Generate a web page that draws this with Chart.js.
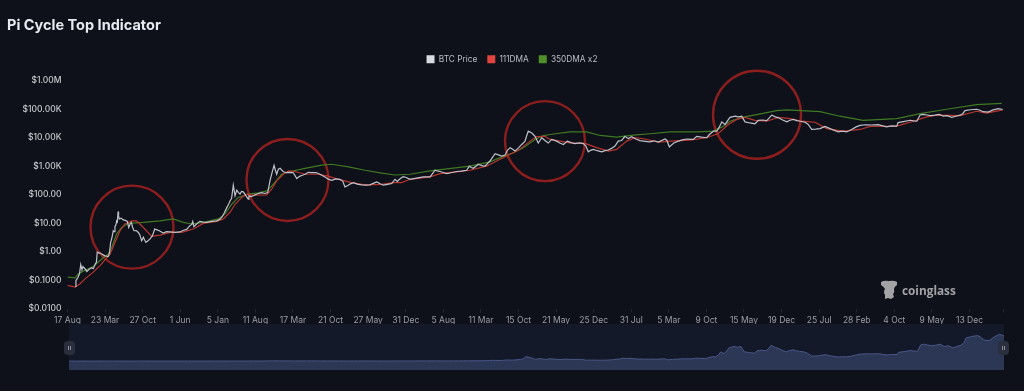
<!DOCTYPE html>
<html>
<head>
<meta charset="utf-8">
<title>Pi Cycle Top Indicator</title>
<script src="https://cdn.jsdelivr.net/npm/chart.js@4"></script>
<style>
  html, body { margin: 0; padding: 0; background: #0e1119; overflow: hidden; }
  #wrap { position: relative; width: 1024px; height: 391px; filter: blur(0.35px); }
  #mainChart { position: absolute; left: 0; top: 0; }
  #heading { position: absolute; left: 7px; top: 16px; font: 700 14.5px Inter, sans-serif; color: #e6ebf0; line-height: 18px; }
  #navBox { position: absolute; left: 69px; top: 324px; width: 935px; height: 46px; background: #131929; }
  .handle { position: absolute; top: 341px; width: 11px; height: 14px; border-radius: 4px; background: #2a2e3d; }
  .handle::after { content: ''; position: absolute; left: 4px; top: 5px; width: 1px; height: 4px; background: #8a8e9a; box-shadow: 2px 0 0 #8a8e9a; }
  #logo { position: absolute; left: 880px; top: 280px; height: 20px; display: flex; align-items: center; }
  #logo span { font: 700 11.8px "Open Sans", sans-serif; color: #a3a3a6; margin-left: 4px; }
</style>
</head>
<body>
<div id="wrap">
  <canvas id="mainChart" width="1024" height="391"></canvas>
  <div id="heading">Pi Cycle Top Indicator</div>
  <div id="navBox"><canvas id="navChart" width="935" height="46"></canvas></div>
  <div class="handle" style="left:64px"></div>
  <div class="handle" style="left:998px"></div>
  <div id="logo">
    <svg width="18" height="20" viewBox="0 0 18 20"><path d="M1 2 Q4 0 9 1 Q14 0 17 2 L17 5 Q14 7 14 9 Q15 12 13 14 L14 17 L11 19 L8 18 L5 19 L5 15 Q3 12 5 9 Q4 7 1 5 Z" fill="#a3a3a6"/></svg>
    <span>coinglass</span>
  </div>
</div>
<script>
// ========= Data (days since 17 Aug 2010) =========
const tickLabels = ['17 Aug', '23 Mar', '27 Oct', '1 Jun', '5 Jan', '11 Aug', '17 Mar', '21 Oct', '27 May',
  '31 Dec', '5 Aug', '11 Mar', '15 Oct', '21 May', '25 Dec', '31 Jul', '5 Mar', '9 Oct', '15 May', '19 Dec',
  '25 Jul', '28 Feb', '4 Oct', '9 May', '13 Dec', ''];
const tickDays = [0, 218.5, 437, 655.5, 874, 1092.5, 1311, 1529.5, 1748, 1966.5, 2185, 2403.5, 2622, 2840.5,
  3059, 3277.5, 3496, 3714.5, 3933, 4151.5, 4370, 4588.5, 4807, 5025.5, 5244, 5439];

const yTickValues = [0.01, 0.1, 1, 10, 100, 1000, 10000, 100000, 1000000];
const yTickLabels = ['$0.0100', '$0.1000', '$1.00', '$10.00', '$100.00', '$1.00K', '$10.00K', '$100.00K', '$1.00M'];

const priceDays = [
  45, 49, 60, 70, 77, 84, 90, 96, 104, 112,
  126, 141, 150, 162, 168, 173, 183, 193, 205, 218,
  237, 244, 251, 258, 266, 271, 276, 281, 286, 290,
  294, 297, 301, 312, 324, 336, 348, 356, 363, 371,
  379, 387, 400, 412, 421, 431, 436, 441, 448, 456,
  468, 480, 494, 507, 520, 534, 546, 557, 575, 596,
  625, 654, 675, 693, 710, 722, 728, 735, 752, 770,
  790, 809, 840, 867, 885, 897, 912, 926, 938, 945,
  954, 964, 969, 974, 984, 993, 1003, 1012, 1022, 1036,
  1051, 1055, 1068, 1080, 1105, 1129, 1147, 1164, 1177, 1190,
  1201, 1208, 1216, 1226, 1236, 1255, 1274, 1294, 1313, 1333,
  1342, 1352, 1366, 1381, 1400, 1420, 1445, 1468, 1484, 1497,
  1516, 1536, 1560, 1584, 1600, 1613, 1630, 1645, 1662, 1685,
  1710, 1735, 1759, 1778, 1798, 1818, 1836, 1860, 1885, 1904,
  1917, 1935, 1952, 1970, 1991, 2030, 2069, 2108, 2137, 2150,
  2166, 2185, 2205, 2235, 2263, 2290, 2321, 2336, 2348, 2359,
  2375, 2388, 2408, 2427, 2456, 2470, 2486, 2505, 2524, 2544,
  2558, 2573, 2588, 2602, 2622, 2641, 2650, 2660, 2670, 2679,
  2699, 2708, 2718, 2728, 2737, 2747, 2757, 2776, 2795, 2815,
  2844, 2862, 2883, 2906, 2928, 2951, 2975, 2999, 3014, 3028,
  3042, 3057, 3080, 3106, 3125, 3144, 3165, 3183, 3202, 3222,
  3241, 3260, 3280, 3304, 3328, 3358, 3386, 3410, 3435, 3474,
  3485, 3499, 3525, 3551, 3575, 3600, 3638, 3658, 3687, 3716,
  3735, 3755, 3775, 3790, 3804, 3823, 3838, 3852, 3881, 3900,
  3920, 3939, 3968, 3997, 4017, 4040, 4065, 4080, 4094, 4113,
  4133, 4158, 4182, 4200, 4220, 4240, 4259, 4288, 4305, 4327,
  4350, 4375, 4404, 4440, 4481, 4505, 4530, 4559, 4585, 4608,
  4640, 4675, 4714, 4740, 4763, 4790, 4821, 4829, 4860, 4899,
  4918, 4938, 4957, 4975, 4996, 5020, 5044, 5068, 5092, 5115,
  5141, 5165, 5189, 5205, 5218, 5250, 5286, 5305, 5324, 5352,
  5382, 5411, 5437];
const priceValues = [
  0.06, 0.096, 0.12, 0.17, 0.35, 0.23, 0.3, 0.27, 0.24, 0.2,
  0.24, 0.27, 0.25, 0.37, 0.42, 0.95, 0.9, 0.87, 0.78, 0.71,
  0.67, 0.9, 2.1, 3, 5.4, 5, 7.5, 8.5, 12, 11,
  25.6, 18, 14, 15, 13, 12.5, 11.5, 7, 9, 10.6,
  7, 5.4, 5.5, 4.7, 3.8, 2.4, 2.7, 3.2, 2.6, 2.1,
  2.4, 2.8, 3.6, 6.2, 5.8, 5.4, 4.9, 4.5, 5, 4.9,
  4.7, 4.9, 5.6, 6, 8, 9, 11.5, 7.5, 9.5, 11.5,
  10.8, 10.6, 11.5, 12, 13.5, 15.8, 23, 35, 48, 60,
  75, 215, 140, 91, 144, 120, 105, 130, 125, 95,
  70, 91, 85, 91, 108, 118, 110, 118, 304, 620,
  1080, 750, 520, 780, 840, 640, 590, 610, 590, 370,
  410, 450, 480, 520, 610, 590, 600, 520, 460, 420,
  350, 320, 360, 346, 300, 188, 210, 240, 265, 235,
  220, 215, 220, 250, 280, 240, 215, 230, 245, 346,
  290, 370, 430, 400, 346, 380, 420, 420, 720, 680,
  650, 600, 550, 600, 650, 670, 720, 1000, 900, 840,
  1000, 1170, 1050, 1000, 1520, 2000, 2760, 2500, 2270, 2450,
  3600, 4460, 3900, 3390, 4400, 5800, 6500, 7600, 12000, 17000,
  14800, 13000, 11200, 8500, 6500, 8000, 10000, 8000, 6500, 8700,
  7600, 6500, 5800, 7600, 6700, 6200, 6600, 6200, 5100, 3200,
  3600, 3900, 3500, 3200, 3500, 3700, 4300, 5100, 7600, 8000,
  11200, 9300, 10800, 9000, 7900, 7500, 7200, 7800, 7000, 9000,
  8000, 4700, 6500, 7600, 8400, 9000, 8700, 11200, 10500, 10000,
  13500, 17000, 17000, 24000, 36000, 29000, 40000, 52000, 57000, 54000,
  57000, 36000, 33000, 31000, 41000, 42000, 40000, 50000, 62000, 55000,
  50000, 42000, 36000, 41000, 44000, 40000, 38000, 35000, 30000, 19500,
  20000, 21000, 25000, 20000, 16000, 17000, 16000, 19500, 24000, 27000,
  28500, 28000, 29000, 26000, 24000, 26000, 25500, 34000, 37000, 41000,
  39000, 38000, 63000, 66000, 63000, 60000, 62000, 66000, 57000, 60000,
  52000, 57000, 62000, 70000, 90000, 96000, 100000, 92000, 82000, 80000,
  95000, 105000, 98000];

const dma111Days = [0, 44, 73, 102, 150, 189, 228, 247, 276, 305, 334, 373, 402, 431, 490, 538, 596, 664, 731, 790,
  867, 906, 945, 974, 1013, 1042, 1080, 1158, 1187, 1216, 1255, 1284, 1323, 1381, 1458, 1516, 1574, 1652, 1730, 1827,
  1894, 1943, 1991, 2108, 2166, 2263, 2340, 2437, 2495, 2553, 2621, 2689, 2728, 2776, 2805, 2921, 3009, 3077, 3144, 3193,
  3251, 3299, 3357, 3435, 3503, 3619, 3716, 3784, 3842, 3891, 3939, 3997, 4065, 4133, 4201, 4269, 4346, 4414, 4510, 4608,
  4666, 4821, 4918, 4996, 5054, 5189, 5286, 5344, 5437];
const dma111Values = [0.065, 0.056, 0.074, 0.11, 0.19, 0.32, 0.6, 0.79, 2.1, 5.4, 9.3, 12, 12, 8.1, 3.4, 3.8, 4.7, 4.7, 6.2, 9.8,
  11.5, 14, 24, 46, 80, 105, 96, 98, 155, 304, 520, 680, 650, 520, 520, 450, 346, 265, 220, 230,
  265, 265, 346, 420, 550, 630, 720, 1000, 1520, 2270, 3600, 7600, 11000, 11200, 8700, 6600, 6300, 4500, 3400, 3900,
  7600, 10000, 9000, 7000, 7600, 8200, 10000, 14000, 29000, 44000, 52000, 41000, 38000, 52000, 47000, 38000, 35000, 21000, 17000, 19500,
  25000, 25500, 38000, 54000, 62000, 60000, 85000, 73000, 95000];

const dma350Days = [0, 44, 63, 102, 150, 199, 237, 257, 286, 315, 353, 441, 538, 615, 673, 722, 790, 877, 916, 955,
  993, 1051, 1109, 1158, 1197, 1245, 1294, 1381, 1478, 1536, 1633, 1730, 1827, 1904, 1991, 2108, 2340, 2456, 2515, 2592,
  2650, 2718, 2766, 2805, 2921, 3019, 3096, 3193, 3290, 3386, 3503, 3658, 3755, 3804, 3852, 3920, 4007, 4123, 4182, 4375,
  4491, 4626, 4821, 4957, 5112, 5286, 5432];
const dma350Values = [0.126, 0.12, 0.165, 0.22, 0.3, 0.55, 0.83, 1.4, 4.2, 7, 9.8, 10.6, 12, 14, 10.6, 9.3, 10.6, 14, 21, 46,
  80, 105, 116, 136, 232, 520, 650, 840, 1090, 1170, 940, 720, 570, 490, 520, 680, 1000, 1420, 2000, 2950,
  4450, 8700, 11800, 13000, 16000, 16000, 12000, 10500, 12300, 13800, 16000, 16000, 17000, 23500, 38000, 52000, 65000, 90000, 95000, 82000,
  57000, 41000, 47000, 70000, 100000, 145000, 160000];

// Lingkaran penanda puncak siklus
const circleDays = [375, 1279, 2776, 4009];
const circleValues = [7.2, 329, 7600, 64200];
const circleRadius = [41.5, 41, 40, 44];

function toPoints(xs, ys) {
  return xs.map((x, i) => ({ x: x, y: ys[i] }));
}

function lineDataset(label, xs, ys, color, legendColor) {
  return {
    label: label,
    data: toPoints(xs, ys),
    borderColor: color,
    backgroundColor: legendColor,
    borderWidth: 1.2,
    pointRadius: 0,
    tension: 0
  };
}

// Tambah jarak di bawah legend supaya area plot mulai di tempat yang sama
const legendGap = {
  id: 'legendGap',
  beforeInit(chart) {
    const fit = chart.legend.fit;
    chart.legend.fit = function () {
      fit.call(this);
      this.height += 7.5;
    };
  }
};

function setScalePadding(scale, right) {
  scale.paddingLeft = 0;
  scale.paddingRight = right;
  scale.paddingTop = 0;
  scale.paddingBottom = 0;
}

// ========= Chart utama =========
new Chart(document.getElementById('mainChart').getContext('2d'), {
  type: 'line',
  plugins: [legendGap],
  data: {
    datasets: [
      lineDataset('BTC Price', priceDays, priceValues, '#bfc2ca', '#d9dbe2'),
      lineDataset('111DMA', dma111Days, dma111Values, '#b8352f', '#e0443e'),
      lineDataset('350DMA x2', dma350Days, dma350Values, '#3f7a22', '#4f8f2a'),
      {
        type: 'scatter',
        label: 'circles',
        data: toPoints(circleDays, circleValues),
        showLine: false,
        pointRadius: circleRadius,
        pointBorderColor: '#8c1e1e',
        pointBorderWidth: 2.4,
        pointBackgroundColor: 'rgba(0,0,0,0)',
        clip: false
      }
    ]
  },
  options: {
    responsive: false,
    animation: false,
    events: [],
    // autoPadding dimatikan: radius lingkaran besar bikin area plot menyusut
    layout: { autoPadding: false, padding: { left: 0, right: 0, top: 45, bottom: 66.5 } },
    plugins: {
      tooltip: { enabled: false },
      legend: {
        display: true,
        position: 'top',
        align: 'center',
        labels: {
          color: '#b9bcc4',
          font: { family: 'Inter', size: 8.3 },
          boxWidth: 8,
          boxHeight: 8,
          padding: 10,
          filter: (item) => item.text !== 'circles',
          generateLabels: (chart) => chart.data.datasets.map((ds, i) => ({
            text: ds.label,
            fillStyle: ds.backgroundColor,
            strokeStyle: ds.backgroundColor,
            lineWidth: 0,
            fontColor: '#b9bcc4',
            datasetIndex: i
          }))
        }
      }
    },
    scales: {
      x: {
        type: 'linear',
        min: 0,
        max: 5439,
        afterBuildTicks: (scale) => { scale.ticks = tickDays.map((d) => ({ value: d })); },
        afterFit: (scale) => { scale.height = 16; setScalePadding(scale, 21); },
        border: { display: false },
        grid: { drawOnChartArea: false, color: '#20242f', tickLength: 4 },
        ticks: {
          autoSkip: false,
          maxRotation: 0,
          padding: 3,
          color: '#9b9ea6',
          font: { family: 'Inter', size: 8.5 },
          callback: (value) => tickLabels[tickDays.indexOf(value)]
        }
      },
      y: {
        type: 'logarithmic',
        min: 0.01,
        max: 1000000,
        afterBuildTicks: (scale) => { scale.ticks = yTickValues.map((v) => ({ value: v })); },
        afterFit: (scale) => { scale.width = 67.5; setScalePadding(scale, 0); },
        border: { display: false },
        grid: { display: false, drawTicks: false },
        ticks: {
          padding: 6,
          color: '#c6c8cd',
          font: { family: 'Inter', size: 8.5, weight: '500' },
          callback: (value) => yTickLabels[yTickValues.indexOf(value)]
        }
      }
    }
  }
});

// ========= Navigator di bawah =========
new Chart(document.getElementById('navChart').getContext('2d'), {
  type: 'line',
  data: {
    datasets: [{
      data: toPoints(priceDays, priceValues),
      borderColor: '#4a5788',
      backgroundColor: '#2c3655',
      borderWidth: 1,
      pointRadius: 0,
      fill: 'start'
    }]
  },
  options: {
    responsive: false,
    animation: false,
    events: [],
    plugins: { legend: { display: false }, tooltip: { enabled: false } },
    scales: {
      x: { type: 'linear', min: 45, max: 5437, display: false },
      y: { type: 'linear', min: -35000, max: 145000, display: false }
    }
  }
});
</script>
</body>
</html>
